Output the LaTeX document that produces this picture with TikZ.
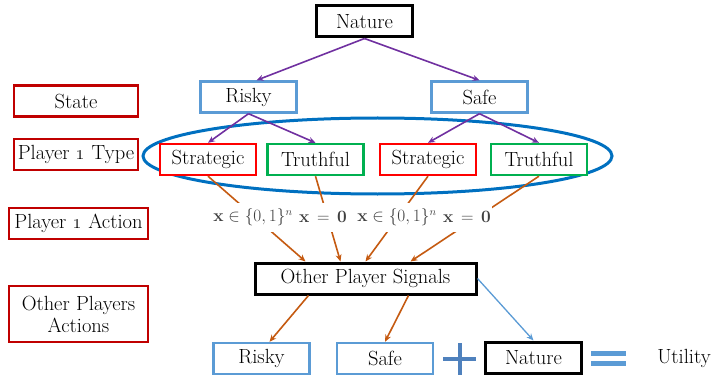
\documentclass[tikz,border=0pt]{standalone}
\usepackage{amsmath,amssymb}
\usepackage{xcolor}
\usepackage{tikz}
\usetikzlibrary{arrows.meta, positioning, shapes.geometric}

\definecolor{lblred}{HTML}{C00000}
\definecolor{stratred}{HTML}{FF0000}
\definecolor{truthgreen}{HTML}{00B050}
\definecolor{stateblue}{HTML}{5B9BD5}
\definecolor{ellblue}{HTML}{0070C0}
\definecolor{plusblue}{HTML}{4F81BD}
\definecolor{arrpurple}{HTML}{7030A0}
\definecolor{arrorange}{HTML}{C55A11}

\begin{document}
\begin{tikzpicture}[
  x=1pt, y=-1pt,
  box/.style={
    draw,
    fill=white,
    line width=2.4pt,
    minimum width=96pt,
    minimum height=31pt,
    inner sep=2pt,
    font=\fontsize{20.5}{23}\selectfont,
    align=center
  },
  blackbox/.style={box, draw=black, line width=3pt},
  rowlabel/.style={box, draw=lblred, minimum width=124pt},
  statebox/.style={box, draw=stateblue},
  stratbox/.style={box, draw=stratred},
  truthbox/.style={box, draw=truthgreen},
  action/.style={fill=white, inner sep=1pt, minimum height=29pt,
    text=black!75, font=\fontsize{16}{18}\selectfont},
  purplearrow/.style={-{Stealth[length=7pt,width=6pt]}, line width=1.6pt, draw=arrpurple},
  orangearrow/.style={-{Stealth[length=7pt,width=6pt]}, line width=1.6pt, draw=arrorange},
  bluearrow/.style={-{Stealth[length=7pt,width=6pt]}, line width=1.3pt, draw=stateblue}
]
\useasboundingbox (0,0) rectangle (712,377);

% Type ellipse behind the boxes
\node[ellipse, draw=ellblue, line width=3pt, minimum width=469pt, minimum height=76pt] (types) at (377.5,156) {};

% Row labels on the left
\node[rowlabel] (lstate) at (76,101) {State};
\node[rowlabel] (ltype) at (76,154.5) {Player \oldstylenums{1} Type};
\node[rowlabel, minimum width=139pt] (laction) at (78.5,223.5) {Player \oldstylenums{1} Action};
\node[rowlabel, minimum width=139pt, minimum height=56pt, font=\fontsize{20.5}{22}\selectfont] (lother) at (78.5,314) {Other Players\\Actions};

% Tree
\node[blackbox] (nature) at (364.5,21.5) {Nature};
\node[statebox] (risky) at (248.5,97) {Risky};
\node[statebox] (safe) at (479.5,97) {Safe};
\node[stratbox] (strat1) at (208,159.5) {Strategic};
\node[truthbox] (truth1) at (315.5,159.5) {Truthful};
\node[stratbox] (strat2) at (428,159.5) {Strategic};
\node[truthbox] (truth2) at (539,159.5) {Truthful};
\node[blackbox, minimum width=221pt] (signals) at (365.5,278.5) {Other Player Signals};

% Bottom row
\node[statebox] (riskyb) at (261.5,358.5) {Risky};
\node[statebox] (safeb) at (385,358.5) {Safe};
\node[blackbox] (natureb) at (533.5,357.5) {Nature};
\node[font=\fontsize{20.5}{23}\selectfont] (utility) at (684,358) {Utility};

% Nature and states
\draw[purplearrow] (nature.south) -- ([xshift=8pt]risky.north);
\draw[purplearrow] (nature.south) -- (safe.north);
\draw[purplearrow] (risky.south) -- (strat1.north);
\draw[purplearrow] (risky.south) -- (truth1.north);
\draw[purplearrow] (safe.south) -- (strat2.north);
\draw[purplearrow] (safe.south) -- (truth2.north);

% Actions into the signals
\draw[orangearrow] (strat1.south) -- ([xshift=-60pt]signals.north);
\draw[orangearrow] (truth1.south) -- ([xshift=-25pt]signals.north);
\draw[orangearrow] (strat2.south) -- (signals.north);
\draw[orangearrow] (truth2.south) -- ([xshift=45pt]signals.north);

% Action labels over the arrows
\node[action] (act1) at (253,217) {$\mathbf{x}\in\{0,1\}^n$};
\node[action] (act2) at (323,217) {$\mathbf{x}\,=\,\mathbf{0}$};
\node[action] (act3) at (397,217) {$\mathbf{x}\in\{0,1\}^n$};
\node[action] (act4) at (467,217) {$\mathbf{x}\,=\,\mathbf{0}$};

% Signals to the outcome
\draw[orangearrow] ([xshift=-57pt]signals.south) -- ([xshift=8pt]riskyb.north);
\draw[orangearrow] ([xshift=43pt]signals.south) -- (safeb.north);
\draw[bluearrow] (signals.east) -- (natureb.north);

% Plus and equals
\draw[plusblue, line width=4pt] (443,358.5) -- (476,358.5);
\draw[plusblue, line width=4pt] (459.5,343) -- (459.5,375);
\draw[stateblue, line width=5pt] (591,353) -- (626,353);
\draw[stateblue, line width=5pt] (591,363.5) -- (626,363.5);
\end{tikzpicture}
\end{document}
